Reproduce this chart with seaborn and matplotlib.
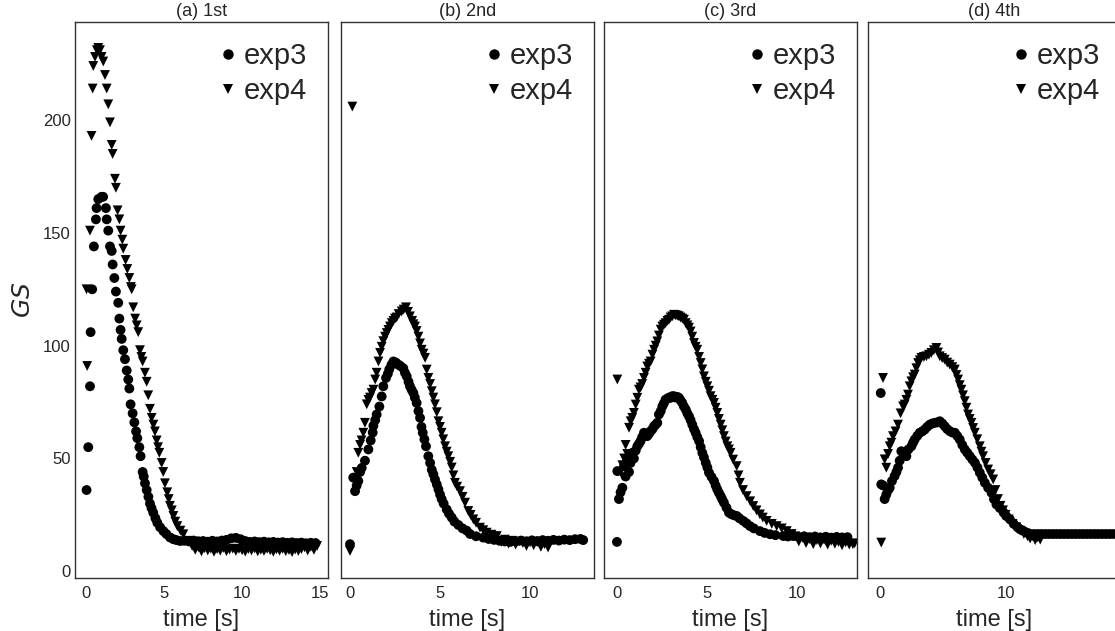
import matplotlib
matplotlib.use("Agg")
import matplotlib.pyplot as plt
import pandas as pd
import seaborn as sns

# ---------------- data ----------------
panel_titles = ["(a) 1st", "(b) 2nd", "(c) 3rd", "(d) 4th"]
series_names = ["exp3", "exp4"]
y_ticks = [0, 50, 100, 150, 200]
x_ticks = [[0, 5, 10, 15], [0, 5, 10], [0, 5, 10], [0, 10]]

# panel (a)
a_t3 = [0.04, 0.15, 0.26, 0.30, 0.40, 0.51, 0.64, 0.68, 0.79, 1.00, 1.10, 1.28, 1.33, 1.43, 1.54, 1.65,
        1.71, 1.82, 1.92, 2.07, 2.14, 2.22, 2.29, 2.39, 2.50, 2.61, 2.71, 2.78, 2.86, 2.99, 3.10, 3.21,
        3.29, 3.42, 3.50, 3.63, 3.70, 3.78, 3.89, 4.00, 4.10, 4.20, 4.31, 4.45, 4.57, 4.75, 4.96, 5.15,
        5.38, 5.60, 5.80, 6.03, 6.30, 6.60, 6.90, 7.20, 7.50, 7.80, 8.10, 8.40, 8.70, 9.00, 9.30, 9.60,
        9.90, 10.2, 10.5, 10.8, 11.1, 11.4, 11.7, 12.0, 12.3, 12.6, 12.9, 13.2, 13.5, 13.8, 14.1, 14.4, 14.7]
a_v3 = [36, 55, 82, 106, 125, 144, 156, 161, 165, 166, 166, 161, 156, 151, 144, 142,
        136, 130, 124, 119, 112, 107, 103, 98, 94, 89, 85, 81, 74, 70, 66, 62,
        59, 55, 51, 44, 42, 39, 36, 33, 30, 28, 26, 23.5, 21.5, 19.5, 17.8, 16.5,
        15.0, 14.2, 13.8, 13.4, 13.5, 13.2, 13.6, 13.3, 13.4, 13.1, 13.5, 13.2, 13.6, 13.9, 14.6, 14.8,
        14.2, 13.4, 13.0, 13.2, 12.9, 13.1, 12.8, 13.0, 12.7, 12.9, 12.6, 12.8, 12.5, 12.7, 12.4, 12.6, 12.5]
a_t4 = [0.04, 0.08, 0.26, 0.36, 0.43, 0.47, 0.58, 0.70, 0.79, 0.90, 1.00, 1.11, 1.22, 1.33, 1.43, 1.54,
        1.65, 1.71, 1.86, 1.92, 2.03, 2.14, 2.22, 2.33, 2.39, 2.54, 2.65, 2.78, 2.88, 2.93, 3.03, 3.15,
        3.25, 3.35, 3.46, 3.55, 3.63, 3.78, 3.89, 3.99, 4.10, 4.21, 4.32, 4.42, 4.53, 4.62, 4.70, 4.85,
        4.95, 5.06, 5.21, 5.30, 5.38, 5.50, 5.60, 5.72, 5.85, 6.05, 6.24, 6.50, 6.80, 7.00, 7.20, 7.40,
        7.60, 7.80, 8.00, 8.20, 8.40, 8.60, 8.80, 9.00, 9.20, 9.40, 9.60, 9.80, 10.0, 10.2, 10.4, 10.6,
        10.8, 11.0, 11.2, 11.4, 11.6, 11.8, 12.0, 12.2, 12.4, 12.6, 12.8, 13.0, 13.2, 13.4, 13.6, 13.8,
        14.0, 14.2, 14.4, 14.6, 14.8]
a_v4 = [125, 91, 151, 193, 214, 224, 228, 231, 232, 231, 228, 226, 220, 214, 207, 199,
        189, 185, 174, 170, 160, 156, 151, 147, 143, 138, 134, 130, 126, 125, 117, 112,
        109, 106, 98, 95, 93, 88, 84, 78, 72, 68, 65, 62, 58, 55, 52.5, 48,
        44, 39, 35, 32, 29, 27, 24.5, 22, 20, 18, 16.4, 13.5, 11.2, 9.5, 10.6, 8.8,
        10.2, 9.2, 10.0, 8.6, 9.8, 9.1, 10.3, 8.9, 9.6, 10.0, 9.0, 9.9, 9.3, 8.7, 9.8, 9.2,
        10.1, 8.8, 9.5, 9.0, 9.9, 9.3, 8.6, 9.7, 9.1, 9.9, 8.9, 9.4, 8.5, 9.6, 9.0, 9.8,
        10.6, 9.2, 10.8, 9.5, 11.2]

# panel (b)
b_t3 = [0.00, 0.18, 0.28, 0.37, 0.46, 0.56, 0.65, 0.83, 1.02, 1.15, 1.26, 1.30, 1.40, 1.48, 1.63, 1.76,
        1.85, 2.00, 2.10, 2.18, 2.30, 2.41, 2.55, 2.68, 2.80, 2.96, 3.05, 3.15, 3.25, 3.33, 3.42, 3.52,
        3.60, 3.70, 3.80, 3.89, 3.97, 4.04, 4.13, 4.22, 4.35, 4.45, 4.54, 4.63, 4.72, 4.82, 4.91, 5.00,
        5.09, 5.20, 5.37, 5.50, 5.65, 5.80, 6.02, 6.25, 6.48, 6.67, 7.00, 7.40, 7.70, 8.00, 8.30, 8.60,
        8.90, 9.20, 9.50, 9.80, 10.1, 10.4, 10.7, 11.0, 11.3, 11.6, 11.9, 12.2, 12.5, 12.8, 12.95]
b_v3 = [12, 41.5, 35.5, 38, 40, 44, 45.8, 49, 54, 58, 61.5, 64.5, 67, 69.5, 73, 77.5,
        82, 85.7, 87.5, 89.5, 91.5, 93, 92.5, 91.6, 91, 90, 88, 86.4, 84, 82, 80.5, 79,
        77, 74.6, 71, 68, 64, 61.4, 58.5, 55.4, 51, 48, 45, 43, 40.7, 38.5, 36.3, 34,
        32, 30, 27.4, 25.5, 23.8, 22, 20.5, 19, 18, 16.5, 15.5, 14.9, 14.3, 13.9, 13.5, 13.2,
        13.0, 13.2, 13.6, 13.3, 13.7, 13.4, 13.8, 13.5, 13.9, 13.6, 14.0, 13.8, 14.2, 14.3, 13.8]
b_t4 = [0.00, 0.13, 0.30, 0.37, 0.46, 0.56, 0.64, 0.74, 0.83, 0.93, 1.02, 1.11, 1.20, 1.30, 1.40, 1.48,
        1.58, 1.67, 1.76, 1.85, 1.95, 2.04, 2.13, 2.22, 2.32, 2.41, 2.50, 2.59, 2.70, 2.87, 2.98, 3.11,
        3.22, 3.33, 3.45, 3.52, 3.61, 3.70, 3.80, 3.89, 3.98, 4.08, 4.17, 4.26, 4.35, 4.45, 4.54, 4.63,
        4.72, 4.82, 4.91, 5.00, 5.09, 5.18, 5.28, 5.37, 5.46, 5.56, 5.65, 5.74, 5.83, 5.95, 6.11, 6.25,
        6.39, 6.57, 6.70, 6.85, 7.00, 7.22, 7.40, 7.59, 7.85, 8.15, 8.40, 8.60, 8.80, 9.00, 9.20, 9.40,
        9.60, 9.80, 10.0, 10.2, 10.4, 10.6, 10.8, 11.0]
b_v4 = [9, 206, 40.4, 44, 52.5, 56, 58, 61.4, 65.8, 74, 76, 77, 79, 80.5, 85, 88,
        93, 96.8, 99.5, 102, 104, 105.6, 107, 108.5, 110, 111, 112, 112.5, 114, 115.2, 116, 117,
        115, 113, 111, 109.5, 108.5, 106.5, 104, 101, 98.2, 96.5, 94.6, 89.4, 85.7, 83, 79.8, 77,
        74, 70.5, 66.5, 64, 61.4, 58.5, 55.4, 53, 51, 48.5, 46, 42.5, 39.2, 37.5, 35.5, 33,
        30.4, 26.7, 25, 23, 21.5, 19.3, 18.2, 17.1, 16.2, 15.6, 13.0, 14.0, 12.2, 13.5, 11.8, 13.2,
        12.5, 11.2, 12.8, 11.5, 12.9, 10.8, 12.0, 10.5]

# panel (c)
c_t3 = [0.00, 0.02, 0.11, 0.20, 0.30, 0.39, 0.48, 0.57, 0.67, 0.75, 0.85, 0.94, 1.04, 1.13, 1.22, 1.31,
        1.40, 1.50, 1.59, 1.68, 1.78, 1.87, 1.97, 2.06, 2.15, 2.24, 2.33, 2.43, 2.52, 2.61, 2.70, 2.80,
        2.89, 2.98, 3.07, 3.17, 3.26, 3.35, 3.44, 3.53, 3.63, 3.72, 3.82, 3.91, 4.00, 4.09, 4.18, 4.28,
        4.37, 4.46, 4.56, 4.65, 4.74, 4.83, 4.93, 5.02, 5.11, 5.25, 5.39, 5.48, 5.57, 5.66, 5.76, 5.85,
        5.94, 6.08, 6.22, 6.35, 6.50, 6.65, 6.80, 7.02, 7.20, 7.39, 7.60, 7.94, 8.20, 8.50, 8.80, 9.24,
        9.50, 9.80, 10.1, 10.4, 10.7, 11.0, 11.3, 11.6, 11.9, 12.2, 12.5, 12.8]
c_v3 = [13, 44.4, 32, 35, 37, 46.6, 42, 49.6, 44, 48, 52.5, 50, 53.5, 55.4, 56.5, 57.7,
        59.5, 61.4, 60, 59.9, 61, 62.1, 63, 64.3, 65, 65.8, 69.5, 71, 73.1, 74.5, 76.1, 76.5,
        77, 76.9, 77.6, 77.6, 77, 77.3, 76.9, 75.8, 74.6, 73, 71.7, 70, 68.7, 67, 65, 63,
        61.4, 59.5, 57.7, 55, 52.5, 50.5, 48.1, 46, 43.7, 41.8, 40, 38, 36.3, 34.8, 33.3, 31.8,
        30.4, 28.2, 26, 25.3, 24.8, 24.5, 23.5, 22.3, 21.2, 20, 19, 17.8, 17, 16.4, 16, 15.6,
        15.4, 15.6, 15.2, 15.5, 15.1, 15.4, 15.0, 15.3, 14.9, 15.2, 15.0, 15.1]
c_t4 = [0.02, 0.20, 0.30, 0.40, 0.48, 0.57, 0.67, 0.76, 0.85, 0.94, 1.04, 1.13, 1.22, 1.31, 1.40, 1.50,
        1.59, 1.68, 1.78, 1.87, 1.97, 2.06, 2.15, 2.24, 2.33, 2.43, 2.52, 2.61, 2.70, 2.80, 2.89, 2.98,
        3.07, 3.17, 3.26, 3.35, 3.44, 3.53, 3.63, 3.72, 3.82, 3.91, 4.00, 4.09, 4.18, 4.28, 4.37, 4.46,
        4.56, 4.65, 4.74, 4.83, 4.93, 5.02, 5.11, 5.20, 5.30, 5.39, 5.48, 5.57, 5.66, 5.76, 5.85, 5.94,
        6.04, 6.13, 6.22, 6.31, 6.45, 6.65, 6.75, 6.83, 7.00, 7.20, 7.40, 7.57, 7.75, 7.94, 8.10, 8.31,
        8.60, 8.87, 9.15, 9.43, 9.70, 9.90, 10.1, 10.3, 10.5, 10.7, 10.9, 11.1, 11.3, 11.5, 11.7, 11.9,
        12.1, 12.3, 12.5, 12.7, 12.9, 13.1, 13.2]
c_v4 = [85, 44, 47, 50, 56, 52, 63.6, 66.5, 68, 70.2, 73.9, 76.9, 80.5, 81.5, 83, 85.7,
        88, 90.8, 92, 93, 96, 98.2, 100, 101.9, 104.5, 107.1, 108.5, 109.3, 110, 111, 111.5, 112.5,
        113, 113.7, 113.5, 113.3, 113, 112.5, 112, 111.5, 110, 109, 108, 106.3, 104, 101.2, 99.5, 98.2,
        95, 92.3, 89.5, 86.4, 84, 82, 80, 77.6, 76, 74.6, 72.5, 70.2, 67.5, 65, 62.5, 59.9,
        57.5, 55.4, 54, 52.5, 49.5, 46.6, 42.5, 39.2, 36, 33.3, 31, 28.9, 27, 25.2, 23.8, 22.3,
        21, 20, 19, 17.8, 16.5, 15.5, 13.2, 14.8, 12.5, 14.2, 12.0, 13.8, 12.3, 14.0, 11.8, 13.5,
        12.2, 13.0, 11.5, 12.8, 11.8, 12.0, 12.4]

# panel (d)
d_t3 = [0.06, 0.10, 0.25, 0.37, 0.50, 0.65, 0.77, 0.95, 1.16, 1.30, 1.43, 1.56, 1.69, 1.85, 2.09, 2.25,
        2.49, 2.62, 2.75, 2.95, 3.15, 3.35, 3.54, 3.74, 3.94, 4.14, 4.34, 4.54, 4.74, 4.94, 5.13, 5.33,
        5.53, 5.73, 5.93, 6.12, 6.32, 6.52, 6.72, 6.92, 7.12, 7.32, 7.52, 7.72, 7.91, 8.11, 8.31, 8.57,
        8.84, 9.03, 9.23, 9.50, 9.80, 10.0, 10.3, 10.6, 10.9, 11.1, 11.4, 11.7, 11.9, 12.2, 12.5, 12.8,
        13.1, 13.4, 13.7, 14.0, 14.3, 14.6, 14.9, 15.2, 15.5, 15.8, 16.1, 16.4, 16.7, 17.0, 17.3, 17.6,
        17.9, 18.2, 18.5]
d_v3 = [79, 38.5, 38, 32, 34, 36, 37, 40, 42.2, 44, 45.9, 49, 53.2, 52, 51, 54,
        55.4, 57, 58.4, 60, 61.4, 62, 62.8, 64, 65, 65.5, 65.8, 66, 66.5, 65.5, 64.3, 63,
        62.1, 61.5, 61.4, 60, 58.4, 56, 54, 52.5, 51, 49.5, 48.1, 46, 43.7, 41.5, 39.2, 37,
        34.8, 32, 29.6, 28, 26, 24.5, 23, 21, 19.5, 18.6, 17.8, 17, 16.5, 16.5, 16.5, 16.5,
        16.5, 16.5, 16.5, 16.5, 16.5, 16.5, 16.5, 16.5, 16.5, 16.5, 16.5, 16.5, 16.5, 16.5, 16.5, 16.5,
        16.5, 16.5, 16.5]
d_t4 = [0.10, 0.24, 0.37, 0.50, 0.64, 0.77, 0.90, 1.03, 1.23, 1.43, 1.63, 1.83, 1.96, 2.09, 2.22, 2.35,
        2.49, 2.62, 2.75, 2.88, 3.02, 3.15, 3.28, 3.48, 3.68, 3.88, 4.07, 4.27, 4.47, 4.60, 4.74, 4.93,
        5.13, 5.33, 5.53, 5.73, 5.93, 6.06, 6.19, 6.32, 6.45, 6.58, 6.72, 6.85, 6.98, 7.11, 7.25, 7.38,
        7.52, 7.71, 7.91, 8.04, 8.17, 8.37, 8.57, 8.77, 8.97, 9.15, 9.35, 9.55, 9.75, 9.95, 10.2, 10.5,
        10.8, 11.1, 11.4, 11.7, 11.9, 12.1, 12.3, 12.5, 12.7]
d_v4 = [12.7, 85.7, 49.6, 45.9, 52, 55.4, 57, 59.9, 62, 65, 70, 73.1, 73.9, 76, 78.3, 82,
        84.2, 86, 87.2, 90, 92.3, 93.5, 94.6, 95, 95.3, 96, 96.8, 98, 99, 97, 95.3, 94.5,
        93.8, 92.5, 91.6, 90.5, 89.4, 87, 85, 82.5, 80.5, 78, 75.4, 72.5, 69.5, 67.5, 65.8, 63.5,
        61.4, 58.5, 55.4, 53, 51, 48, 45.1, 43, 40.7, 36, 32, 29, 27, 25, 23, 21,
        19.5, 18, 16.5, 15.5, 14.5, 15.5, 13.8, 15, 14]

panel_data = [(a_t3, a_v3, a_t4, a_v4), (b_t3, b_v3, b_t4, b_v4),
              (c_t3, c_v3, c_t4, c_v4), (d_t3, d_v3, d_t4, d_v4)]
x_limits = [(-0.7, 15.5), (-0.5, 13.55), (-0.72, 13.33), (-0.95, 19.1)]
y_limits = (-3.0, 243.5)

# ---------------- style ----------------
sns.set_theme(style="white")
plt.rcParams["font.family"] = ["Liberation Sans", "DejaVu Sans"]
plt.rcParams["mathtext.fontset"] = "dejavusans"
plt.rcParams["xtick.major.size"] = 0
plt.rcParams["ytick.major.size"] = 0

W, H = 1115, 631
fig = plt.figure(figsize=(W / 100, H / 100), dpi=100)
lefts_px = [75, 341, 604, 868]
width_px = 253
top_px, bottom_px = 22, 578

for i, (t3, v3, t4, v4) in enumerate(panel_data):
    ax = fig.add_axes([lefts_px[i] / W, 1 - bottom_px / H, width_px / W, (bottom_px - top_px) / H])
    df = pd.concat([
        pd.DataFrame({"time": t3, "GS": v3, "series": series_names[0]}),
        pd.DataFrame({"time": t4, "GS": v4, "series": series_names[1]}),
    ], ignore_index=True)
    sns.scatterplot(data=df, x="time", y="GS", style="series",
                    markers={"exp3": "o", "exp4": "v"}, color="black",
                    s=50, linewidth=0, ax=ax, legend=True)
    leg = ax.get_legend()
    handles = leg.legend_handles
    labels = [t.get_text() for t in leg.get_texts()]
    for h in handles:
        try:
            h.set_markersize(7.5)
            h.set_color("black")
        except Exception:
            pass
    ax.legend(handles, labels, loc="upper right", frameon=False, fontsize=21,
              handlelength=0.6, handletextpad=0.25, labelspacing=0.22,
              borderaxespad=0.3, borderpad=0.4)
    ax.set_xlim(*x_limits[i])
    ax.set_ylim(*y_limits)
    ax.set_xticks(x_ticks[i])
    ax.set_yticks(y_ticks)
    ax.tick_params(axis="both", labelsize=12, colors="#262626", pad=3)
    ax.tick_params(axis="x", pad=5.5)
    ax.set_xlabel("time [s]", fontsize=17, labelpad=6)
    ax.set_title(panel_titles[i], fontsize=13, pad=4)
    if i == 0:
        ax.set_ylabel("$GS$", fontsize=18, labelpad=6)
    else:
        ax.set_ylabel("")
        ax.set_yticklabels([])
    for sp in ax.spines.values():
        sp.set_color("#333333")
        sp.set_linewidth(1.0)

fig.savefig("out.png", dpi=100)
